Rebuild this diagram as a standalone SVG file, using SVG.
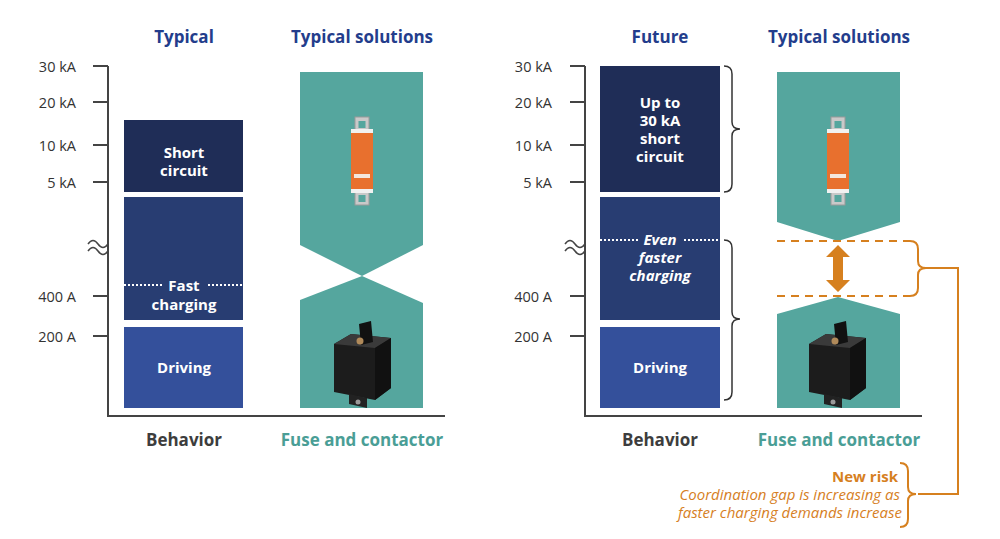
<svg xmlns="http://www.w3.org/2000/svg" width="1000" height="539" viewBox="0 0 1000 539">
<defs>
<g id="fuse">
<rect x="-7" y="-44" width="14" height="14" fill="#c9c9c9" stroke="#999"/>
<rect x="-7" y="30" width="14" height="14" fill="#c9c9c9" stroke="#999"/>
<rect x="-3.5" y="-40" width="7" height="7" fill="#55a69e"/>
<rect x="-3.5" y="34" width="7" height="7" fill="#55a69e"/>
<rect x="-11" y="-32" width="22" height="64" rx="2" fill="#e8702e"/>
<rect x="-11" y="-32" width="22" height="4" fill="#f1f1f1"/>
<rect x="-11" y="28" width="22" height="4" fill="#f1f1f1"/>
<rect x="-8" y="13" width="16" height="4" fill="#f4e6dc"/>
</g>
<g id="cont">
<path d="M-29,-14 L-12,-24 L28,-20 L28,30 L12,42 L-29,34 Z" fill="#1c1c1c"/>
<path d="M-29,-14 L-12,-24 L28,-20 L12,-10 Z" fill="#3a3a3a"/>
<path d="M12,-10 L28,-20 L28,30 L12,42 Z" fill="#111"/>
<path d="M-4,-34 L8,-37 L10,-16 L-2,-13 Z" fill="#111"/>
<circle cx="-3" cy="-17" r="3.5" fill="#b08a5a"/>
<path d="M-14,36 L4,40 L4,50 L-14,46 Z" fill="#222"/>
<circle cx="-5" cy="44" r="2.5" fill="#999"/>
</g>
</defs>
<style>
text{font-family:"Open Sans","Liberation Sans",sans-serif}
.h{font-size:17px;font-weight:bold;fill:#233d8c;text-anchor:middle}
.t{font-size:14.5px;fill:#333;text-anchor:end}
.w{font-size:15px;font-weight:bold;fill:#fff;text-anchor:middle}
.wi{font-size:15px;font-weight:bold;font-style:italic;fill:#fff;text-anchor:middle}
.ax{stroke:#444;stroke-width:2;fill:none}
.br{stroke:#333;stroke-width:1.5;fill:none}
.tl{fill:#55a69e}
.or{stroke:#d6801f;stroke-width:2;fill:none}
.dot{stroke:#fff;stroke-width:2;stroke-dasharray:2 2}
.b1{font-size:17px;font-weight:bold;fill:#3d3d3d;text-anchor:middle}
.b2{font-size:17px;font-weight:bold;fill:#4a9e96;text-anchor:middle}
.n{font-size:15px;fill:#d6801f;text-anchor:end}
</style>
<g id="left">
<text class="h" x="184" y="43">Typical</text>
<text class="h" x="362" y="43">Typical solutions</text>
<path class="ax" d="M108,66 V416 H445 M93,66 H108 M93,102 H108 M93,145 H108 M93,182 H108 M93,296 H108 M93,336 H108"/>
<path d="M88,244 q5,-7 10,0 t10,0 M88,251 q5,-7 10,0 t10,0" stroke="#444" stroke-width="1.5" fill="#fff"/>
<text class="t" x="76" y="72">30 kA</text><text class="t" x="76" y="108">20 kA</text><text class="t" x="76" y="151">10 kA</text><text class="t" x="76" y="188">5 kA</text><text class="t" x="76" y="302">400 A</text><text class="t" x="76" y="342">200 A</text>
<g id="l-sc"><rect x="124" y="120" width="119" height="72" fill="#1f2d57"/><text class="w" x="184" y="158">Short</text><text class="w" x="184" y="176">circuit</text></g>
<g id="l-fc"><rect x="124" y="197" width="119" height="123" fill="#283d72"/><path class="dot" d="M124,285 H163 M208,285 H243"/><text class="w" x="184" y="291">Fast</text><text class="w" x="184" y="310">charging</text></g>
<g id="l-dr"><rect x="124" y="327" width="119" height="81" fill="#34509b"/><text class="w" x="184" y="373">Driving</text></g>
<g id="l-fuse"><path class="tl" d="M300,72 H423 V245 L362,276 L300,245 Z"/><use href="#fuse" x="362" y="161"/></g>
<g id="l-cont"><path class="tl" d="M300,300 L362,276 L423,303 V408 H300 Z"/><use href="#cont" x="363" y="358"/></g>
<text class="b1" x="184" y="446">Behavior</text>
<text class="b2" x="362" y="446">Fuse and contactor</text>
</g>
<g id="right">
<text class="h" x="660" y="43">Future</text>
<text class="h" x="839" y="43">Typical solutions</text>
<path class="ax" d="M585,66 V416 H922 M570,66 H585 M570,102 H585 M570,145 H585 M570,182 H585 M570,296 H585 M570,336 H585"/>
<path d="M565,244 q5,-7 10,0 t10,0 M565,251 q5,-7 10,0 t10,0" stroke="#444" stroke-width="1.5" fill="#fff"/>
<text class="t" x="552" y="72">30 kA</text><text class="t" x="552" y="108">20 kA</text><text class="t" x="552" y="151">10 kA</text><text class="t" x="552" y="188">5 kA</text><text class="t" x="552" y="302">400 A</text><text class="t" x="552" y="342">200 A</text>
<g id="r-sc"><rect x="600" y="66" width="120" height="126" fill="#1f2d57"/><text class="w" x="660" y="108">Up to</text><text class="w" x="660" y="126">30 kA</text><text class="w" x="660" y="144">short</text><text class="w" x="660" y="162">circuit</text></g>
<g id="r-fc"><rect x="600" y="197" width="120" height="123" fill="#283d72"/><path class="dot" d="M600,240 H638 M684,240 H720"/><text class="wi" x="660" y="245">Even</text><text class="wi" x="660" y="263">faster</text><text class="wi" x="660" y="281">charging</text></g>
<g id="r-dr"><rect x="600" y="327" width="120" height="81" fill="#34509b"/><text class="w" x="660" y="373">Driving</text></g>
<g id="r-fuse"><path class="tl" d="M777,72 H900 V222 L838,241 L777,222 Z"/><use href="#fuse" x="838" y="161"/></g>
<g id="r-cont"><path class="tl" d="M777,314 L838,297 L900,314 V408 H777 Z"/><use href="#cont" x="838" y="358"/></g>
<text class="b1" x="660" y="446">Behavior</text>
<text class="b2" x="839" y="446">Fuse and contactor</text>
</g>
<g id="connectors">
<path class="br" d="M724,66 q8,0 8,8 V122 q0,7 8,7 q-8,0 -8,7 V184 q0,8 -8,8"/>
<path class="br" d="M724,240 q8,0 8,8 V312 q0,7 8,7 q-8,0 -8,7 V392 q0,8 -8,8"/>
<path class="or" stroke-dasharray="8 6" d="M777,241 H910 M777,296 H910"/>
<path d="M838,245 L850,257 H843 V280 H850 L838,292 L826,280 H833 V257 H826 Z" fill="#d6801f"/>
<path class="or" d="M910,241 q8,0 8,8 V261 q0,7 8,7 q-8,0 -8,7 V288 q0,8 -8,8 M926,268 H958 V494 H918"/>
<path class="or" d="M900,463 q8,0 8,8 V487 q0,7 8,7 q-8,0 -8,7 V519 q0,8 -8,8"/>
</g>
<g id="note">
<text class="n" x="898" y="482" style="font-weight:bold">New risk</text>
<text class="n" x="900" y="500" style="font-style:italic">Coordination gap is increasing as</text>
<text class="n" x="902" y="518" style="font-style:italic">faster charging demands increase</text>
</g>
</svg>
